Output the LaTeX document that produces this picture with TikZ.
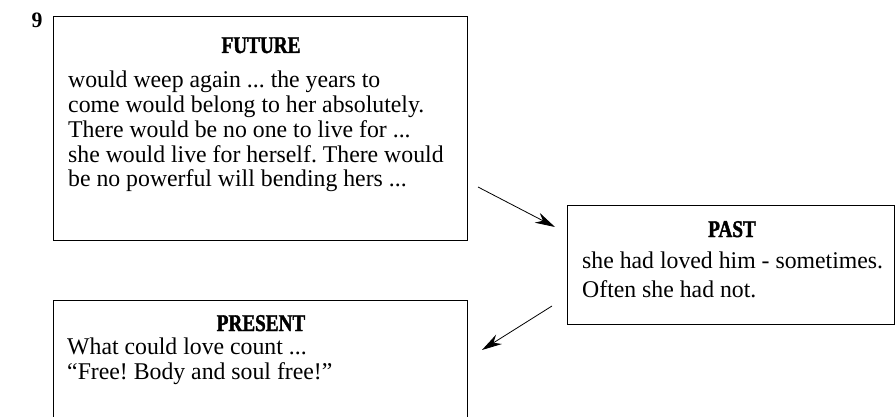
\documentclass[tikz,border=0pt]{standalone}
\usepackage{fontspec}
\setmainfont{Liberation Serif}[FakeStretch=0.99]
\newfontfamily\headfont{Liberation Serif}[FakeStretch=0.8, FakeBold=1.5]
\usetikzlibrary{arrows.meta,positioning}
\frenchspacing

\begin{document}
\begin{tikzpicture}[x=1pt,y=-1pt]
			\tikzstyle{Box}		= [draw, rectangle, line width=1.1pt, anchor=north west, inner sep=0pt]
			\tikzstyle{Head}	= [anchor=base, inner sep=0pt, font=\headfont\bfseries\fontsize{24}{24}\selectfont]
			\tikzstyle{Body}	= [anchor=base west, inner sep=0pt, align=left, font=\fontsize{24}{25}\selectfont]
			\tikzstyle{Arr}		= [-{Stealth[length=20pt, width=11pt]}, line width=0.8pt]
			
			\path [use as bounding box, clip] (0,0) rectangle (895,417);
			
			\node (num) at (37,28) [anchor=base, inner sep=0pt, font=\bfseries\fontsize{22}{22}\selectfont] {9};
			
			% boxes
			\node (future)  at (53,16)  [Box, minimum width=414pt, minimum height=224pt] {};
			\node (past)    at (567,205) [Box, minimum width=327pt, minimum height=119pt] {};
			\node (present) at (53,300) [Box, minimum width=414pt, minimum height=140pt] {};
			
			% texts (base = last line)
			\node (futT) at (261,53) [Head] {FUTURE};
			\node (futB) at (68,187) [Body] {would weep again ... the years to\\come would belong to her absolutely.\\There would be no one to live for ...\\she would live for herself. There would\\be no powerful will bending hers ...};
			\node (pasT) at (732,237) [Head] {PAST};
			\node (pasB) at (582,297) [Body, font=\fontsize{24}{29}\selectfont] {she had loved him - sometimes.\\Often she had not.};
			\node (preT) at (261,331) [Head] {PRESENT};
			\node (preB) at (67,379) [Body] {What could love count ...\\“Free! Body and soul free!”};
			
			% arrows
			\coordinate (f2p) at (478,187);
			\coordinate (f2pEnd) at (555,227);
			\coordinate (p2n) at (552,306);
			\coordinate (p2nEnd) at (482,350);
			\draw (f2p) to (f2pEnd) [Arr];
			\draw (p2n) to (p2nEnd) [Arr];
\end{tikzpicture}
\end{document}
